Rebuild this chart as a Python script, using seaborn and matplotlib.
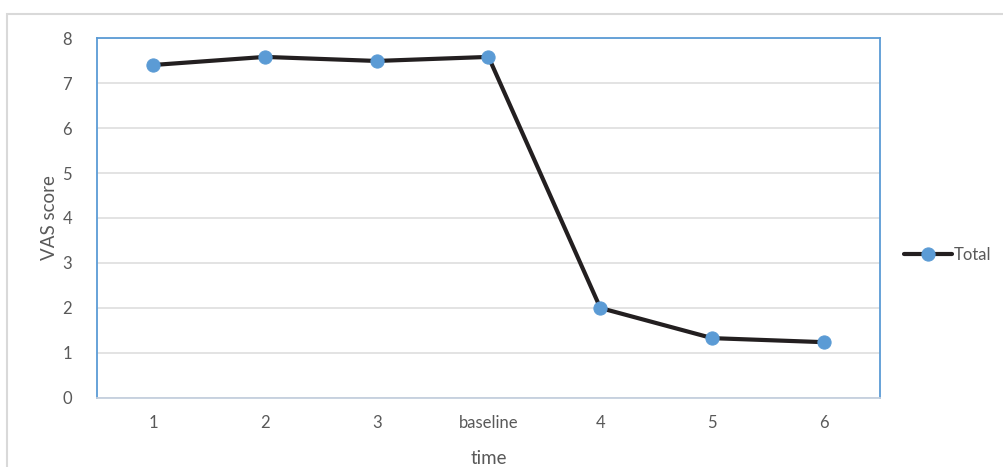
"""VAS score over time, Excel-style line chart."""

import matplotlib

matplotlib.use("Agg")
import matplotlib.pyplot as plt
import pandas as pd
import seaborn as sns
from matplotlib.patches import Rectangle

sns.set_theme(style="white")
plt.rcParams["font.family"] = ["Lato", "DejaVu Sans"]

TIME_LABELS = ["1", "2", "3", "baseline", "4", "5", "6"]
VAS_TOTAL = [7.40, 7.58, 7.49, 7.58, 2.0, 1.33, 1.24]

TEXT_COLOR = "#595959"
GRID_COLOR = "#e0e0e0"
BLUE = "#5b9bd5"
LINE_COLOR = "#231f20"


def main() -> None:
    df = pd.DataFrame({"time": TIME_LABELS, "score": VAS_TOTAL})

    fig = plt.figure(figsize=(10.04, 4.67), dpi=100)
    ax = fig.add_axes([0.0966, 0.1478, 0.7799, 0.7708])

    # outer chart frame (partly outside the image)
    fig.patches.append(
        Rectangle((7 / 1004, -0.2), 1.2, 1.2 - 14 / 467, transform=fig.transFigure,
                  fill=False, edgecolor="#d9d9d9", linewidth=1.5, zorder=0)
    )

    sns.lineplot(
        data=df, x="time", y="score", ax=ax, color=LINE_COLOR, linewidth=3,
        marker="o", markersize=9.5, markerfacecolor=BLUE, markeredgecolor=BLUE,
        label="Total", sort=False,
    )

    ax.set_ylim(0, 8)
    ax.set_xlim(-0.5, len(TIME_LABELS) - 0.5)
    ax.set_yticks(range(0, 9))
    ax.yaxis.grid(True, color=GRID_COLOR, linewidth=1.3)
    ax.set_axisbelow(True)

    for side in ("left", "top", "right"):
        ax.spines[side].set_color(BLUE)
        ax.spines[side].set_linewidth(1.3)
    ax.spines["bottom"].set_color("#c5d0de")
    ax.spines["bottom"].set_linewidth(1.3)

    ax.tick_params(axis="both", length=0, labelsize=12, labelcolor=TEXT_COLOR)
    ax.tick_params(axis="y", pad=18)
    ax.tick_params(axis="x", pad=12)
    ax.set_xlabel("time", fontsize=13.5, color=TEXT_COLOR, labelpad=14)
    ax.set_ylabel("VAS score", fontsize=13.5, color=TEXT_COLOR, labelpad=3)

    leg = ax.legend(
        loc="center left", bbox_to_anchor=(1.022, 0.397), frameon=False,
        fontsize=12, handlelength=2.9, handletextpad=0.1, borderaxespad=0,
    )
    for text in leg.get_texts():
        text.set_color(TEXT_COLOR)

    fig.savefig("out.png", dpi=100)
    plt.close(fig)


if __name__ == "__main__":
    main()
